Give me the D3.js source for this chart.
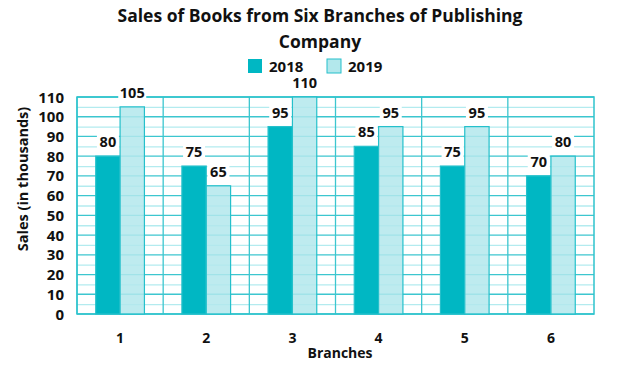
<!DOCTYPE html>
<html>
<head>
<meta charset="utf-8">
<script src="https://cdn.jsdelivr.net/npm/d3@7"></script>
<style>
  body { margin: 0; background: #fff; }
  text { font-family: "Open Sans", sans-serif; font-weight: bold; fill: #111; }
</style>
</head>
<body>
<script>
// data
var branches = ['1', '2', '3', '4', '5', '6'];
var years = ['2018', '2019'];
var sales2018 = [80, 75, 95, 85, 75, 70];
var sales2019 = [105, 65, 110, 95, 95, 80];
var yTicks = [0, 10, 20, 30, 40, 50, 60, 70, 80, 90, 100, 110];

var W = 632, H = 370;
var margin = { top: 97, right: 38, bottom: 56, left: 77 };
var width = W - margin.left - margin.right,
    height = H - margin.top - margin.bottom;

var colors = { '2018': '#00b7c3', '2019': '#b3e8ec' };
var strokeCol = '#25c0cb';

var svg = d3.select('body').append('svg')
    .attr('width', W)
    .attr('height', H);

// title
svg.append('text').attr('x', 320).attr('y', 22)
    .attr('text-anchor', 'middle').style('font-size', '17.5px')
    .text('Sales of Books from Six Branches of Publishing');
svg.append('text').attr('x', 320).attr('y', 48)
    .attr('text-anchor', 'middle').style('font-size', '17.5px')
    .text('Company');

// legend
var leg = svg.append('g');
var legX = [248, 327];
years.forEach(function(yr, i) {
    leg.append('rect')
        .attr('x', legX[i]).attr('y', 59)
        .attr('width', 14).attr('height', 14)
        .attr('fill', colors[yr])
        .attr('stroke', i ? strokeCol : 'none');
    leg.append('text')
        .attr('x', legX[i] + 21).attr('y', 72)
        .style('font-size', '15px')
        .text(yr);
});

var g = svg.append('g')
    .attr('transform', 'translate(' + margin.left + ',' + margin.top + ')');

var x = d3.scaleBand().domain(branches).range([0, width]);
var x1 = d3.scaleBand().domain(years).range([0, x.bandwidth() * 0.565]);
var y = d3.scaleLinear().domain([0, 110]).range([height, 0]);

// grid
var minor = d3.range(5, 110, 10);
g.append('g').selectAll('line').data(minor).enter().append('line')
    .attr('x1', 0).attr('x2', width)
    .attr('y1', function(d) { return y(d) + 0.5; })
    .attr('y2', function(d) { return y(d) + 0.5; })
    .attr('stroke', '#b3ebef').attr('stroke-width', 1.3);
g.append('g').selectAll('line').data(yTicks).enter().append('line')
    .attr('x1', 0).attr('x2', width)
    .attr('y1', function(d) { return y(d); })
    .attr('y2', function(d) { return y(d); })
    .attr('stroke', '#3cc6cf').attr('stroke-width', 1.3);
g.append('g').selectAll('line').data(branches).enter().append('line')
    .attr('x1', function(d) { return x(d); })
    .attr('x2', function(d) { return x(d); })
    .attr('y1', 0).attr('y2', height)
    .attr('stroke', '#3cc6cf').attr('stroke-width', 1.3);
g.append('rect').attr('width', width).attr('height', height)
    .attr('fill', 'none').attr('stroke', '#2ec3cd').attr('stroke-width', 1.5);

// bars
var rows = branches.map(function(b, i) {
    return { branch: b, vals: [
        { year: '2018', v: sales2018[i] },
        { year: '2019', v: sales2019[i] }
    ] };
});
var off = (x.bandwidth() - x1.range()[1]) / 2;

var grp = g.append('g').selectAll('g').data(rows).enter().append('g')
    .attr('transform', function(d) { return 'translate(' + (x(d.branch) + off) + ',0)'; });

grp.selectAll('rect').data(function(d) { return d.vals; }).enter().append('rect')
    .attr('x', function(d) { return x1(d.year); })
    .attr('y', function(d) { return y(d.v); })
    .attr('width', x1.bandwidth())
    .attr('height', function(d) { return height - y(d.v); })
    .attr('fill', function(d) { return colors[d.year]; })
    .attr('fill-opacity', function(d) { return d.year == '2019' ? 0.85 : 1; })
    .attr('stroke', strokeCol).attr('stroke-width', 1.2);

// value labels with white box
var lab = grp.selectAll('g.lab').data(function(d) { return d.vals; }).enter().append('g')
    .attr('class', 'lab')
    .attr('transform', function(d) {
        return 'translate(' + (x1(d.year) + x1.bandwidth() / 2) + ',' + (y(d.v) - 9) + ')';
    });
lab.append('rect')
    .attr('x', function(d) { return d.v >= 100 ? -14 : -11; })
    .attr('y', -13)
    .attr('width', function(d) { return d.v >= 100 ? 28 : 22; })
    .attr('height', 17)
    .attr('fill', '#fff');
lab.append('text')
    .attr('text-anchor', 'middle')
    .style('font-size', '14.5px')
    .text(function(d) { return d.v; });

// y axis labels
g.append('g').selectAll('text').data(yTicks).enter().append('text')
    .attr('x', -13).attr('y', function(d) { return y(d) + 5.5; })
    .attr('text-anchor', 'end')
    .style('font-size', '15px')
    .text(function(d) { return d; });

// x axis labels
g.append('g').selectAll('text').data(branches).enter().append('text')
    .attr('x', function(d) { return x(d) + x.bandwidth() / 2; })
    .attr('y', height + 29)
    .attr('text-anchor', 'middle')
    .style('font-size', '14px')
    .text(function(d) { return d; });

svg.append('text').attr('x', 340).attr('y', 358)
    .attr('text-anchor', 'middle').style('font-size', '14px')
    .text('Branches');

svg.append('text')
    .attr('transform', 'translate(28,179) rotate(-90)')
    .attr('text-anchor', 'middle').style('font-size', '14.5px')
    .text('Sales (in thousands)');
</script>
</body>
</html>
